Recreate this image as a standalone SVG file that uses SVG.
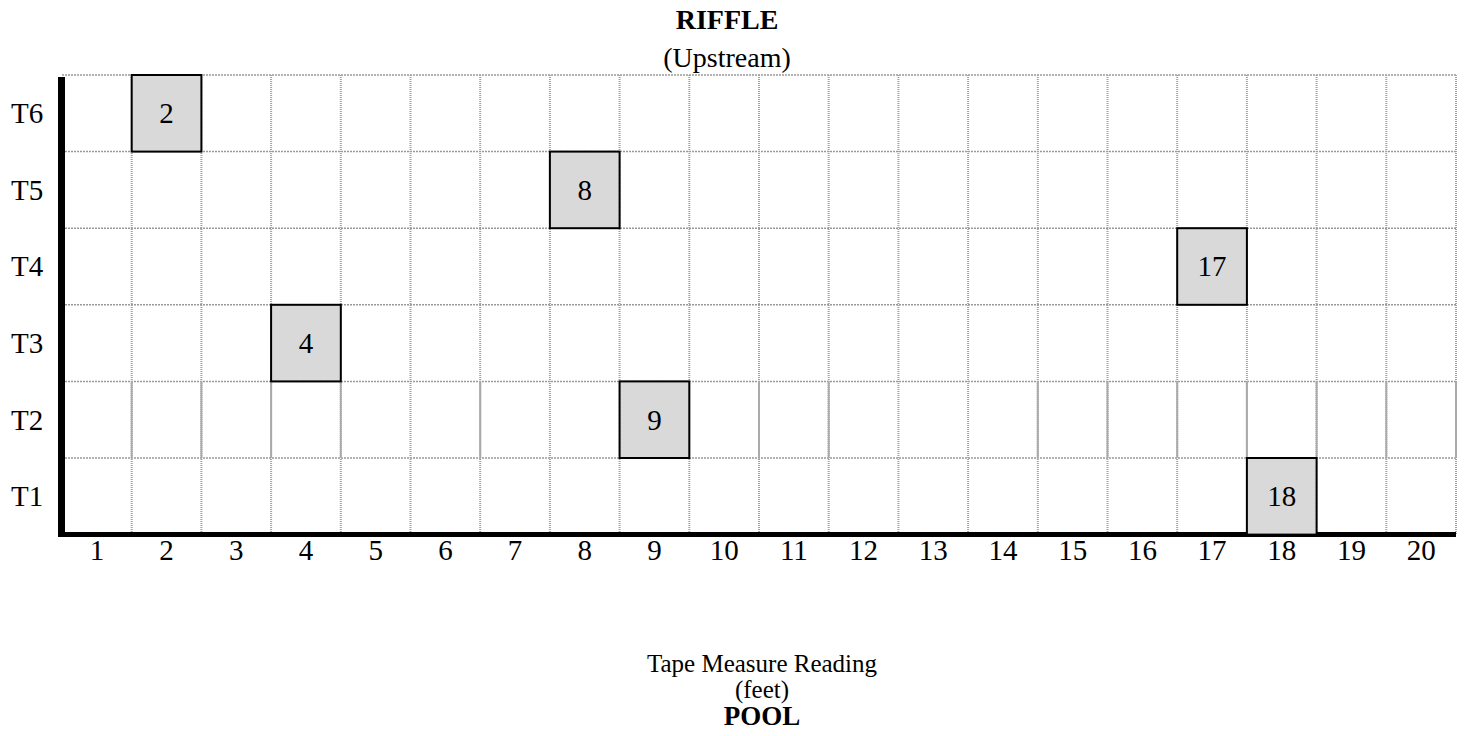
<svg xmlns="http://www.w3.org/2000/svg" width="1465" height="736" viewBox="0 0 1465 736">
<style>
.t{font-family:'Liberation Serif','Times New Roman','DejaVu Serif',serif;font-size:29px;fill:#000}
.s{font-size:25px}
.b{font-weight:bold}
.m{text-anchor:middle}
.hl{stroke:#9a9a9a;stroke-width:1.5;stroke-dasharray:2 1;fill:none}
.vl{stroke:#a0a0a0;stroke-width:2;stroke-dasharray:1 1;fill:none}
.vs{stroke:#aaaaaa;stroke-width:2;fill:none}
.box{fill:#d9d9d9;stroke:#000;stroke-width:2}
.axis{fill:#000}
</style>
<rect width="1465" height="736" fill="#fff"/>
<g id="titles" class="t m">
<text class="b" x="727" y="29" font-size="28">RIFFLE</text>
<text x="727" y="67" font-size="28">(Upstream)</text>
<text class="s" x="762" y="672">Tape Measure Reading</text>
<text class="s" x="762" y="698">(feet)</text>
<text class="b" x="762" y="725" font-size="27">POOL</text>
</g>
<g id="grid">
<path class="hl" d="M62 75H1456M62 151.6H1456M62 228.2H1456M62 304.8H1456M62 381.4H1456M62 458H1456"/>
<path class="vl" d="M131.7 75V534M201.4 75V534M271.1 75V534M340.8 75V534M410.5 75V534M480.2 75V534M549.9 75V534M619.6 75V534M689.3 75V534M759 75V534M828.7 75V534M898.4 75V534M968.1 75V534M1037.8 75V534M1107.5 75V534M1177.2 75V534M1246.9 75V534M1316.6 75V534M1386.3 75V534M1456 75V534"/>
<path class="vs" d="M131.7 381.4V458M201.4 381.4V458M271.1 381.4V458M340.8 381.4V458M480.2 381.4V458M759 381.4V458M828.7 381.4V458M1037.8 381.4V458M1107.5 381.4V458M1177.2 381.4V458M1246.9 381.4V458M1316.6 381.4V458M1386.3 381.4V458M1456 381.4V458"/>
</g>
<g id="axes">
<rect class="axis" x="58" y="77" width="7" height="460"/>
<rect class="axis" x="58" y="532" width="1398" height="5"/>
</g>
<g id="row-labels" class="t">
<text x="11" y="123">T6</text>
<text x="11" y="200">T5</text>
<text x="11" y="276">T4</text>
<text x="11" y="353">T3</text>
<text x="11" y="430">T2</text>
<text x="11" y="506">T1</text>
</g>
<g id="col-labels" class="t m">
<text x="96.9" y="560">1</text>
<text x="166.6" y="560">2</text>
<text x="236.3" y="560">3</text>
<text x="306" y="560">4</text>
<text x="375.7" y="560">5</text>
<text x="445.4" y="560">6</text>
<text x="515.1" y="560">7</text>
<text x="584.8" y="560">8</text>
<text x="654.5" y="560">9</text>
<text x="724.2" y="560">10</text>
<text x="793.9" y="560">11</text>
<text x="863.6" y="560">12</text>
<text x="933.3" y="560">13</text>
<text x="1003" y="560">14</text>
<text x="1072.7" y="560">15</text>
<text x="1142.4" y="560">16</text>
<text x="1212.1" y="560">17</text>
<text x="1281.8" y="560">18</text>
<text x="1351.5" y="560">19</text>
<text x="1421.2" y="560">20</text>
</g>
<g id="box-2"><rect class="box" x="131.7" y="75" width="69.7" height="76.6"/><text class="t m" x="166.6" y="123">2</text></g>
<g id="box-8"><rect class="box" x="549.9" y="151.6" width="69.7" height="76.6"/><text class="t m" x="584.8" y="200">8</text></g>
<g id="box-17"><rect class="box" x="1177.2" y="228.2" width="69.7" height="76.6"/><text class="t m" x="1212.1" y="276">17</text></g>
<g id="box-4"><rect class="box" x="271.1" y="304.8" width="69.7" height="76.6"/><text class="t m" x="306" y="353">4</text></g>
<g id="box-9"><rect class="box" x="619.6" y="381.4" width="69.7" height="76.6"/><text class="t m" x="654.5" y="430">9</text></g>
<g id="box-18"><rect class="box" x="1246.9" y="458" width="69.7" height="76.6"/><text class="t m" x="1281.8" y="506">18</text></g>
</svg>
